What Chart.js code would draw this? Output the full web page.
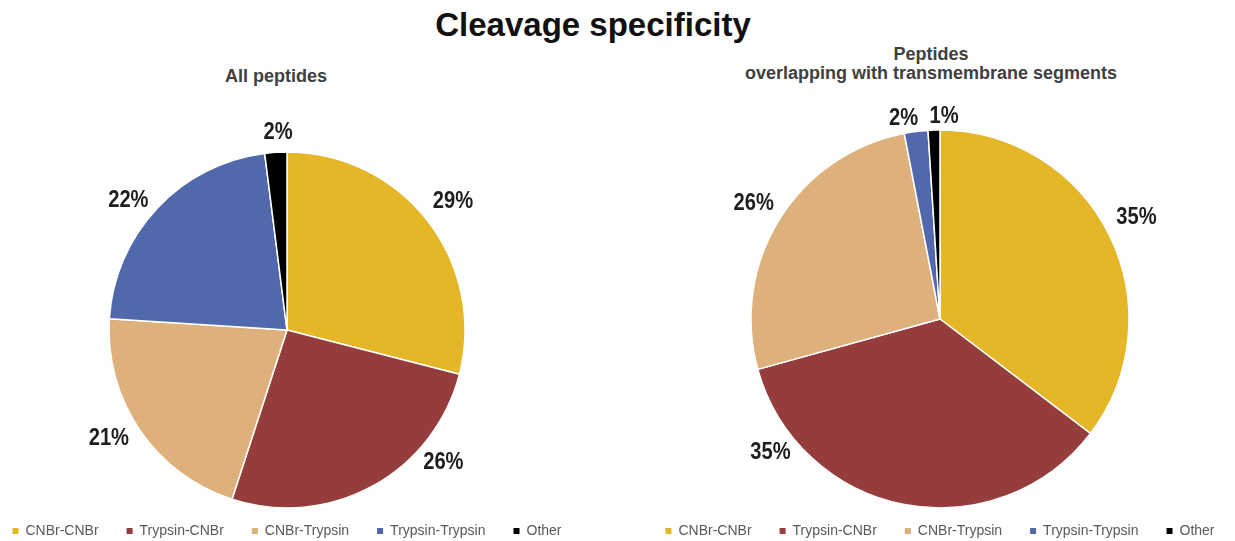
<!DOCTYPE html>
<html>
<head>
<meta charset="utf-8">
<script src="https://cdn.jsdelivr.net/npm/chart.js@4.4.1/dist/chart.umd.min.js"></script>
<style>
  html, body { margin: 0; padding: 0; background: #fff; overflow: hidden; }
  body { width: 1235px; height: 541px; position: relative; font-family: "Liberation Sans", Arial, sans-serif; }
  .title { position: absolute; left: 0; width: 1186px; top: 8px; text-align: center;
           font-size: 33px; font-weight: bold; color: #111; line-height: 34px; }
  .sub { position: absolute; text-align: center; font-size: 18px; font-weight: bold;
         color: #404040; line-height: 19px; }
  .pane { position: absolute; top: 0; height: 548px; }
</style>
</head>
<body>
<div class="title">Cleavage specificity</div>
<div class="sub" style="left:176px; width:200px; top:67px;">All peptides</div>
<div class="sub" style="left:681px; width:500px; top:45px;">Peptides<br>overlapping with transmembrane segments</div>
<div class="pane" style="left:-40px; width:654px;"><canvas id="allChart"></canvas></div>
<div class="pane" style="left:620px; width:640px;"><canvas id="tmChart"></canvas></div>
<script>
const categories = ["CNBr-CNBr", "Trypsin-CNBr", "CNBr-Trypsin", "Trypsin-Trypsin", "Other"];
const allPeptides = [29, 26, 21, 22, 2];
const tmPeptides = [35, 35, 26, 2, 1];
const sliceColors = ["#E5B627", "#943D3C", "#DEB07C", "#5168AD", "#000000"];

// label placement: [angle nudge in degrees, distance as a multiple of the radius]
const allLabelPlace = [[0, 1.18], [-21, 1.15], [3, 1.17], [-4, 1.15], [1, 1.11]];
const tmLabelPlace = [[-1, 1.17], [41, 1.14], [0, 1.16], [-3, 1.08], [3, 1.07]];

const percentLabels = {
  id: "percentLabels",
  afterDatasetsDraw(chart, args, opts) {
    const ctx = chart.ctx;
    const values = chart.data.datasets[0].data;
    chart.getDatasetMeta(0).data.forEach((arc, i) => {
      const p = arc.getProps(["x", "y", "startAngle", "endAngle", "outerRadius"], true);
      const [nudge, dist] = opts.place[i];
      const a = (p.startAngle + p.endAngle) / 2 + nudge * Math.PI / 180;
      const r = p.outerRadius * dist;
      // narrow the glyphs horizontally
      ctx.save();
      ctx.translate(p.x + r * Math.cos(a), p.y + r * Math.sin(a));
      ctx.scale(0.84, 1);
      ctx.font = "bold 24px 'Liberation Sans', Arial, sans-serif";
      ctx.fillStyle = "#1e1e1e";
      ctx.textAlign = "center";
      ctx.textBaseline = "middle";
      ctx.fillText(values[i] + "%", 0, 0);
      ctx.restore();
    });
  }
};

function makePie(id, values, radius, place) {
  return new Chart(document.getElementById(id), {
    type: "pie",
    data: {
      labels: categories,
      datasets: [{
        data: values,
        backgroundColor: sliceColors,
        borderColor: "#ffffff",
        borderWidth: 1.5,
        radius: radius,
        clip: false
      }]
    },
    options: {
      responsive: true,
      maintainAspectRatio: false,
      animation: false,
      layout: { padding: { top: 0, left: 0, right: 0, bottom: 0 } },
      plugins: {
        tooltip: { enabled: false },
        title: { display: false },
        percentLabels: { place: place },
        legend: {
          position: "bottom",
          labels: {
            usePointStyle: true,
            pointStyle: "rect",
            boxWidth: 6,
            boxHeight: 6,
            padding: 28,
            color: "#595959",
            font: { family: "'Liberation Sans', Arial, sans-serif", size: 14 },
            generateLabels(chart) {
              return Chart.overrides.pie.plugins.legend.labels.generateLabels(chart)
                .map(item => Object.assign(item, { lineWidth: 0, strokeStyle: "rgba(0,0,0,0)" }));
            }
          }
        }
      }
    },
    plugins: [percentLabels]
  });
}

const allChart = makePie("allChart", allPeptides, 178, allLabelPlace);
allChart.options.layout.padding.top = 164;
allChart.update();
const tmChart = makePie("tmChart", tmPeptides, 189, tmLabelPlace);
tmChart.options.layout.padding.top = 142;
tmChart.update();
</script>
</body>
</html>
